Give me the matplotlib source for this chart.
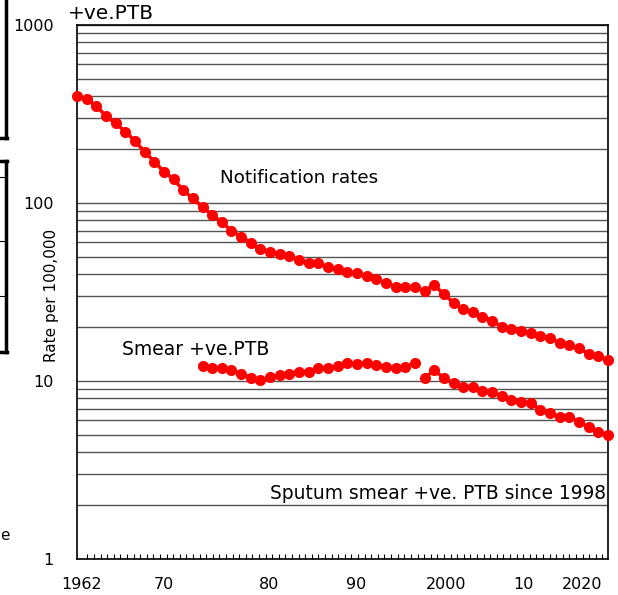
"""Notification rates and smear-positive PTB rates, log scale."""

import matplotlib
matplotlib.use("Agg")
import matplotlib.pyplot as plt
from matplotlib.lines import Line2D
from matplotlib.ticker import FixedLocator, NullFormatter
import numpy as np

# ---- data ----
notif_years_a = list(range(1962, 1998))
notif_a = [399, 383, 351, 308, 280, 252, 223, 194, 171, 150,
           136, 118, 106, 95, 85.7, 77.9, 69.9, 64.7, 59.8, 55.0,
           53.3, 51.7, 50.4, 47.8, 46.2, 45.8, 43.9, 42.4, 41.1, 40.3,
           38.9, 37.3, 35.4, 33.9, 33.6, 33.6]
notif_years_b = list(range(1998, 2018))
notif_b = [32.2, 34.5, 30.8, 27.5, 25.3, 24.5, 23.0, 21.8, 20.2, 19.5,
           19.2, 18.7, 17.9, 17.4, 16.4, 15.9, 15.3, 14.2, 13.8, 13.1]

smear_years_a = list(range(1975, 1998))
smear_a = [12.1, 11.9, 11.8, 11.5, 11.0, 10.4, 10.1, 10.5, 10.8, 11.0,
           11.3, 11.3, 11.8, 11.9, 12.1, 12.7, 12.5, 12.6, 12.3, 12.0,
           11.8, 12.0, 12.6]
smear_years_b = list(range(1998, 2018))
smear_b = [10.4, 11.5, 10.4, 9.7, 9.3, 9.2, 8.8, 8.7, 8.2, 7.8,
           7.6, 7.5, 6.9, 6.6, 6.3, 6.3, 5.9, 5.5, 5.2, 5.0]

xtick_pos = [1962.5, 1971.0, 1981.9, 1990.9, 2000.2, 2008.2, 2014.3]
xtick_labels = ["1962", "70", "80", "90", "2000", "10", "2020"]
ytick_vals = [1, 10, 100, 1000]
ytick_labels = ["1", "10", "100", "1000"]

RED = "#ff0000"

fig = plt.figure(figsize=(6.18, 5.95), dpi=100)
ax = fig.add_axes([0.1246, 0.0605, 0.8592, 0.8975])

for xs, ys in [(notif_years_a, notif_a), (notif_years_b, notif_b),
               (smear_years_a, smear_a), (smear_years_b, smear_b)]:
    ax.plot(xs, ys, color=RED, linewidth=2.6, marker="o", markersize=8,
            markeredgewidth=0, clip_on=False, zorder=5)

ax.set_yscale("log")
ax.set_ylim(1, 1000)
ax.set_xlim(1962, 2017)

# gridlines at every log step
minor_vals = [m * 10 ** k for k in range(0, 3) for m in range(2, 10)]
ax.yaxis.set_major_locator(FixedLocator(ytick_vals))
ax.yaxis.set_minor_locator(FixedLocator(minor_vals))
ax.yaxis.set_minor_formatter(NullFormatter())
ax.set_yticklabels(ytick_labels)
ax.yaxis.grid(True, which="both", color="#555555", linewidth=1.0)
ax.tick_params(axis="y", which="both", length=0, pad=17, labelsize=11.5)

# x labels and small inward ticks along the bottom
ax.xaxis.set_major_locator(FixedLocator(xtick_pos))
ax.set_xticklabels(xtick_labels)
ax.xaxis.set_minor_locator(FixedLocator(np.arange(1963.07, 2017, 0.684)))
ax.tick_params(axis="x", which="major", length=0, pad=13, labelsize=11.5)
ax.tick_params(axis="x", which="minor", direction="in", length=3.5, width=0.8)

for sp in ax.spines.values():
    sp.set_color("black")
    sp.set_linewidth(1.2)

ax.set_ylabel("Rate per 100,000", fontsize=11)
ax.yaxis.set_label_coords(-0.033, 0.494)

ax.text(1976.8, 138, "Notification rates", fontsize=13.2, va="center", ha="left")
ax.text(1966.7, 15.1, "Smear +ve.PTB", fontsize=13.5, va="center", ha="left")
ax.text(2016.8, 2.32, "Sputum smear +ve. PTB since 1998", fontsize=13.4,
        va="center", ha="right")
ax.text(-0.017, 1.021, "+ve.PTB", transform=ax.transAxes, fontsize=14.5,
        va="center", ha="left")

# bits of neighbouring slide objects cut off at the left edge
W, H = 618, 595
def fig_line(x0, y0, x1, y1, lw=2.5):
    fig.add_artist(Line2D([x0 / W, x1 / W], [1 - y0 / H, 1 - y1 / H],
                          color="black", linewidth=lw))

fig_line(5.5, 0, 5.5, 138)
fig_line(0, 138, 6.5, 138)
fig_line(0, 161, 6.5, 161)
fig_line(5.5, 161, 5.5, 352)
fig_line(0, 352, 6.5, 352)
for yy in (177, 241, 296):
    fig_line(0, yy, 5, yy, lw=0.8)
fig.text(0.0, 1 - 535 / H, "e", fontsize=11, va="center", ha="left")

fig.savefig("out.png", dpi=100)
